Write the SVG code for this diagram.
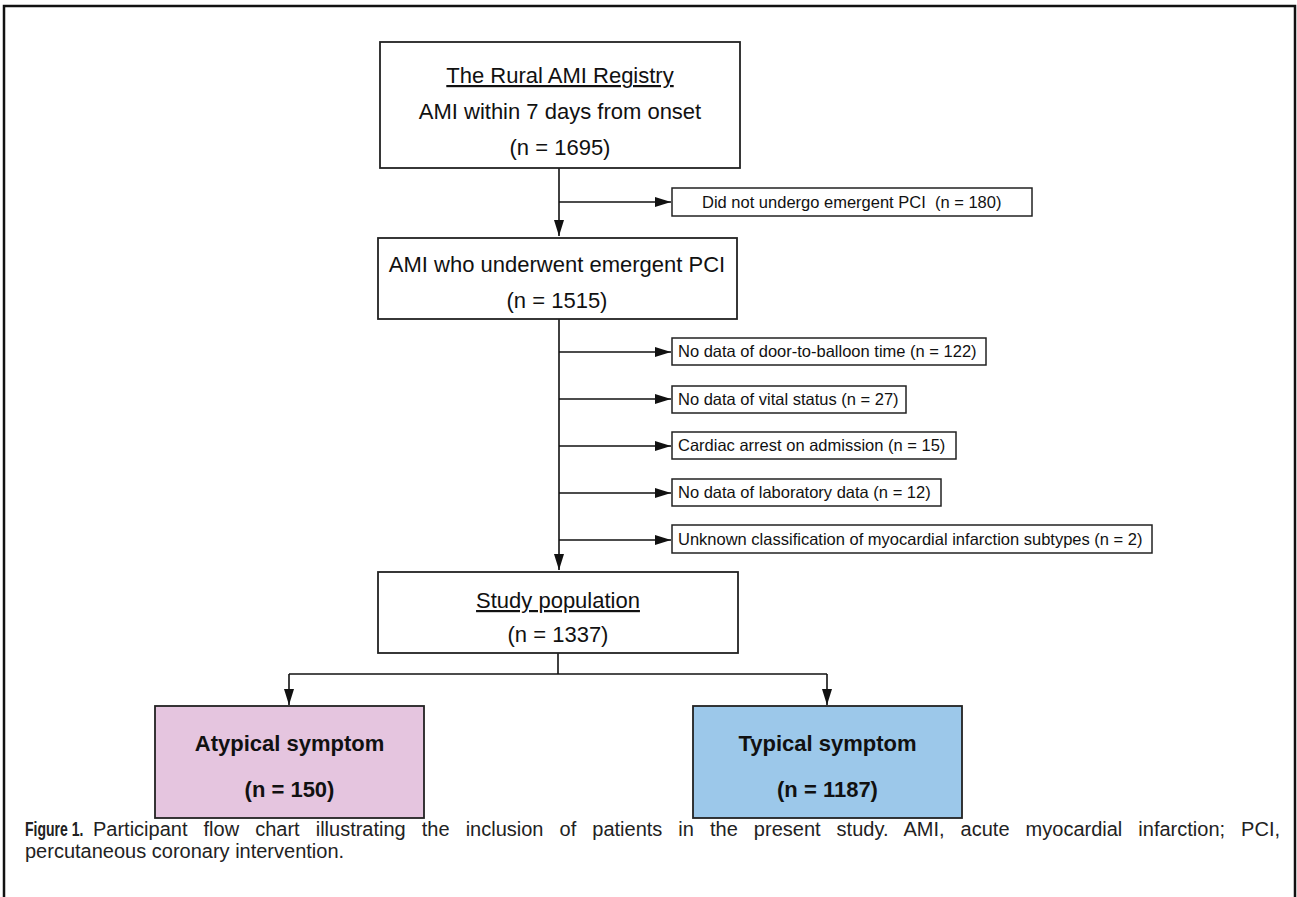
<svg xmlns="http://www.w3.org/2000/svg" width="1297" height="897" viewBox="0 0 1297 897">
<style>
.box{fill:#fff;stroke:#222;stroke-width:1.8}
.sbox{fill:#fff;stroke:#222;stroke-width:1.5}
.t22{font-family:"Liberation Sans",Arial,sans-serif;font-size:22px;fill:#111;text-anchor:middle}
.b22{font-family:"Liberation Sans",Arial,sans-serif;font-size:22px;font-weight:bold;fill:#111;text-anchor:middle}
.t16{font-family:"Liberation Sans",Arial,sans-serif;font-size:16.5px;fill:#111}
.cap{font-family:"Liberation Sans",Arial,sans-serif;font-size:20px;fill:#222}
.ul{text-decoration:underline}
.ln{fill:none;stroke:#111;stroke-width:1.6}
</style>
<defs>
<marker id="ah" markerWidth="16" markerHeight="10" refX="16" refY="5" orient="auto" markerUnits="userSpaceOnUse">
<path d="M0,0 L16,5 L0,10 Z" fill="#111"/>
</marker>
</defs>
<rect x="0" y="0" width="1297" height="897" fill="#fff"/>
<path d="M4,897 V6 H1295 V897" fill="none" stroke="#111" stroke-width="2.5"/>

<g id="connectors">
<path class="ln" d="M559,168 V236" marker-end="url(#ah)"/>
<path class="ln" d="M559,202 H671" marker-end="url(#ah)"/>
<path class="ln" d="M559,319 V570" marker-end="url(#ah)"/>
<path class="ln" d="M559,352 H671" marker-end="url(#ah)"/>
<path class="ln" d="M559,399 H671" marker-end="url(#ah)"/>
<path class="ln" d="M559,446 H671" marker-end="url(#ah)"/>
<path class="ln" d="M559,493 H671" marker-end="url(#ah)"/>
<path class="ln" d="M559,540 H671" marker-end="url(#ah)"/>
<path class="ln" d="M558,653 V674"/>
<path class="ln" d="M289,674 H827"/>
<path class="ln" d="M289,674 V705" marker-end="url(#ah)"/>
<path class="ln" d="M827,674 V705" marker-end="url(#ah)"/>
</g>

<g id="registry">
<rect class="box" x="380" y="42" width="360" height="126"/>
<text class="t22 ul" x="560" y="83">The Rural AMI Registry</text>
<text class="t22" x="560" y="119">AMI within 7 days from onset</text>
<text class="t22" x="560" y="155">(n = 1695)</text>
</g>

<g id="excl-pci">
<rect class="sbox" x="672" y="188" width="360" height="28"/>
<text class="t16" x="702" y="208" xml:space="preserve">Did not undergo emergent PCI  (n = 180)</text>
</g>

<g id="pci">
<rect class="box" x="378" y="238" width="359" height="81"/>
<text class="t22" x="557" y="272">AMI who underwent emergent PCI</text>
<text class="t22" x="557" y="308">(n = 1515)</text>
</g>

<g id="excl-d2b">
<rect class="sbox" x="672" y="338" width="314" height="27"/>
<text class="t16" x="678" y="357">No data of door-to-balloon time (n = 122)</text>
</g>
<g id="excl-vital">
<rect class="sbox" x="672" y="386" width="234" height="27"/>
<text class="t16" x="678" y="405">No data of vital status (n = 27)</text>
</g>
<g id="excl-arrest">
<rect class="sbox" x="672" y="432" width="284" height="27"/>
<text class="t16" x="678" y="451">Cardiac arrest on admission (n = 15)</text>
</g>
<g id="excl-lab">
<rect class="sbox" x="672" y="479" width="269" height="27"/>
<text class="t16" x="678" y="498">No data of laboratory data (n = 12)</text>
</g>
<g id="excl-subtype">
<rect class="sbox" x="672" y="525" width="480" height="28"/>
<text class="t16" x="678" y="545">Unknown classification of myocardial infarction subtypes (n = 2)</text>
</g>

<g id="study">
<rect class="box" x="378" y="572" width="360" height="81"/>
<text class="t22 ul" x="558" y="608">Study population</text>
<text class="t22" x="558" y="642">(n = 1337)</text>
</g>

<g id="atypical">
<rect x="155" y="706" width="269" height="112" fill="#E5C5DF" stroke="#222" stroke-width="1.8"/>
<text class="b22" x="289.5" y="751">Atypical symptom</text>
<text class="b22" x="289.5" y="797">(n = 150)</text>
</g>

<g id="typical">
<rect x="693" y="706" width="269" height="112" fill="#9CC8EA" stroke="#222" stroke-width="1.8"/>
<text class="b22" x="827.5" y="751">Typical symptom</text>
<text class="b22" x="827.5" y="797">(n = 1187)</text>
</g>

<g id="caption">
<text class="cap" x="0" y="0" font-weight="bold" fill="#111" transform="translate(25,836) scale(0.7,1)">Figure 1.</text>
<text class="cap" x="93" y="836" word-spacing="10.5">Participant flow chart illustrating the inclusion of patients in the present study. AMI, acute myocardial infarction; PCI,</text>
<text class="cap" x="25" y="858">percutaneous coronary intervention.</text>
</g>
</svg>
